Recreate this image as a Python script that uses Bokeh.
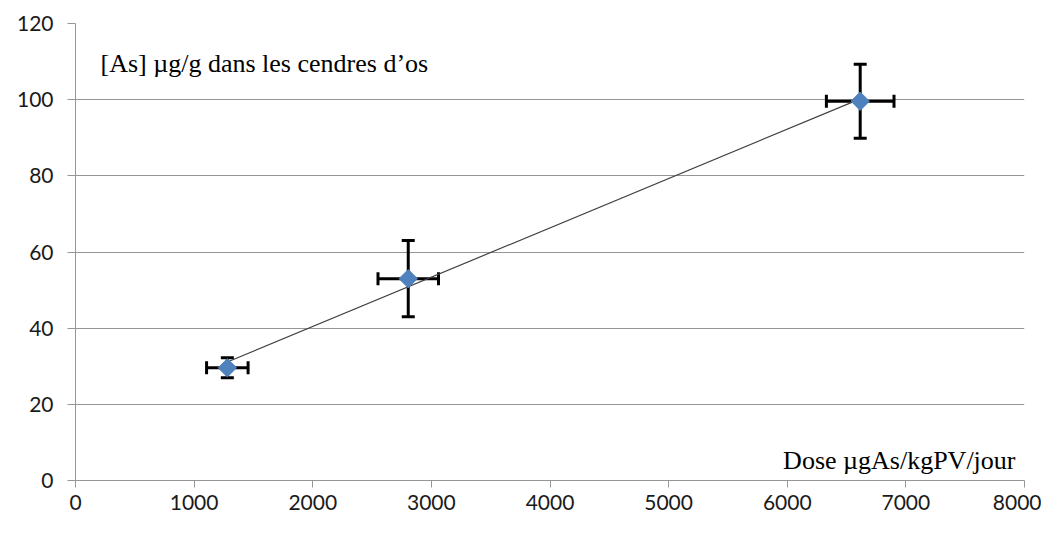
import numpy as np
from bokeh.plotting import figure
from bokeh.models import ColumnDataSource, Whisker, TeeHead, Label, FixedTicker, Range1d
from bokeh.embed import file_html
from bokeh.resources import INLINE

# Data
dose = [1280, 2805, 6615]
dose_err = [175, 255, 285]
conc = [29.6, 53.0, 99.6]
conc_err = [2.6, 10.0, 9.7]
x_ticks = [0, 1000, 2000, 3000, 4000, 5000, 6000, 7000, 8000]
y_ticks = [0, 20, 40, 60, 80, 100, 120]
y_label_text = "[As] µg/g dans les cendres d\u2019os"
x_label_text = "Dose µgAs/kgPV/jour"

src = ColumnDataSource(dict(
    x=dose, y=conc,
    xl=[a - b for a, b in zip(dose, dose_err)], xu=[a + b for a, b in zip(dose, dose_err)],
    yl=[a - b for a, b in zip(conc, conc_err)], yu=[a + b for a, b in zip(conc, conc_err)],
))

p = figure(width=1041, height=524, output_backend="svg", toolbar_location=None,
           x_range=Range1d(0, 8000), y_range=Range1d(0, 120),
           min_border_left=75, min_border_right=17, min_border_top=23, min_border_bottom=44)
p.outline_line_color = None
p.background_fill_color = "white"
p.border_fill_color = "white"

# grid
p.xgrid.grid_line_color = None
p.ygrid.grid_line_color = "#969696"
p.ygrid.grid_line_width = 1
p.ygrid.ticker = FixedTicker(ticks=y_ticks)

for ax in (p.xaxis[0], p.yaxis[0]):
    ax.axis_line_color = "#969696"
    ax.major_tick_line_color = "#969696"
    ax.minor_tick_line_color = None
    ax.major_tick_in = 0
    ax.major_label_text_font = "Lato"
    ax.major_label_text_font_size = "21px"
    ax.major_label_text_color = "#1a1a1a"
p.xaxis.ticker = FixedTicker(ticks=x_ticks)
p.yaxis.ticker = FixedTicker(ticks=y_ticks)
p.xaxis.major_tick_out = 7
p.yaxis.major_tick_out = 8
p.xaxis.major_label_standoff = 7
p.yaxis.major_label_standoff = 14

# trendline (linear fit)
coef = np.polyfit(dose, conc, 1)
tx = [min(dose), max(dose)]
ty = [coef[0] * v + coef[1] for v in tx]
p.line(tx, ty, line_color="#404040", line_width=1.2)

# error bars
head = dict(size=13, line_color="black", line_width=3)
p.add_layout(Whisker(source=src, base="x", lower="yl", upper="yu", dimension="height",
                     line_color="black", line_width=3,
                     lower_head=TeeHead(**head), upper_head=TeeHead(**head)))
p.add_layout(Whisker(source=src, base="y", lower="xl", upper="xu", dimension="width",
                     line_color="black", line_width=3,
                     lower_head=TeeHead(**head), upper_head=TeeHead(**head)))

p.scatter("x", "y", source=src, marker="square", angle=np.pi / 4, size=13,
          fill_color="#4F81BD", line_color="#4F81BD", line_width=1)

p.add_layout(Label(x=211, y=109.5, text=y_label_text, text_font="Liberation Serif",
                   text_font_size="26px", text_baseline="alphabetic", text_color="black"))
p.add_layout(Label(x=7924, y=5.3, text=x_label_text, text_font="Liberation Serif",
                   text_font_size="26px", text_baseline="alphabetic", text_align="right",
                   text_color="black"))

open("out.html", "w").write(file_html(p, INLINE))
